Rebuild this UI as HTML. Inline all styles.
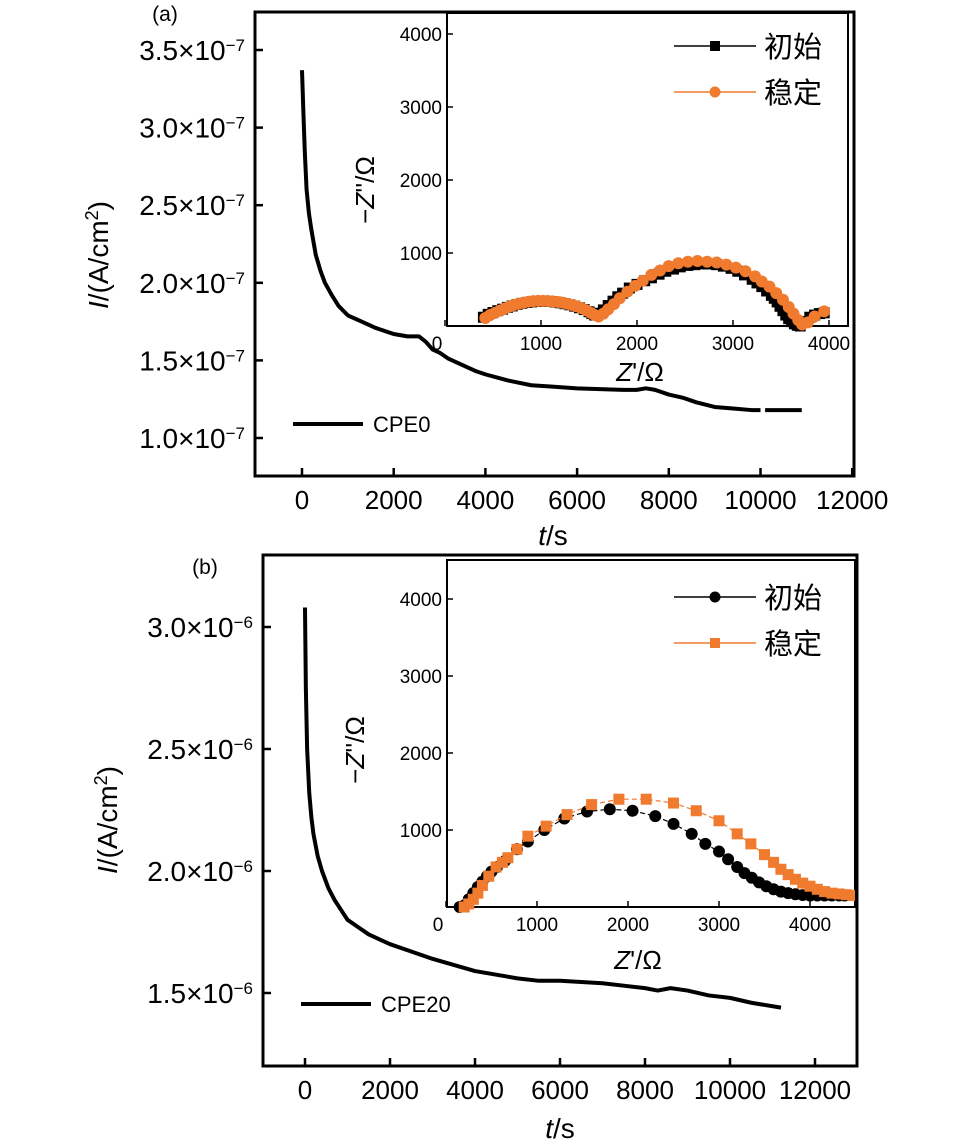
<!DOCTYPE html>
<html><head><meta charset="utf-8"><style>
html,body{margin:0;padding:0;background:#fff;}
svg{display:block;font-family:"Liberation Sans","Noto Sans CJK SC",sans-serif;}
</style></head><body>
<svg id="fig" width="971" height="1145" viewBox="0 0 971 1145" xmlns="http://www.w3.org/2000/svg">
<text x="165" y="21" font-size="21" text-anchor="middle">(a)</text>
<text x="205" y="574" font-size="21" text-anchor="middle">(b)</text>
<text transform="translate(108,255) rotate(-90)" font-size="28" text-anchor="middle"><tspan font-style="italic">I</tspan>/(A/cm<tspan baseline-shift="super" font-size="18">2</tspan>)</text>
<text transform="translate(117,820) rotate(-90)" font-size="28" text-anchor="middle"><tspan font-style="italic">I</tspan>/(A/cm<tspan baseline-shift="super" font-size="18">2</tspan>)</text>
<text x="553" y="545" font-size="28" text-anchor="middle"><tspan font-style="italic">t</tspan>/s</text>
<text x="560" y="1138" font-size="28" text-anchor="middle"><tspan font-style="italic">t</tspan>/s</text>
</svg>
<script>
// ---- Panel (a) main data ----
const tA = [0,30,60,100,150,200,300,400,500,650,800,1000,1300,1600,2000,2300,2550,2700,2850,3000,3200,3500,3800,4000,4500,5000,5500,6000,6500,7000,7300,7500,7700,8000,8300,8600,9000,9400,9800,10000];
const iA = [3.37,3.1,2.85,2.6,2.45,2.35,2.18,2.08,2.0,1.92,1.85,1.79,1.75,1.71,1.67,1.655,1.655,1.62,1.57,1.55,1.51,1.47,1.43,1.41,1.37,1.34,1.33,1.32,1.315,1.31,1.31,1.32,1.31,1.28,1.26,1.23,1.20,1.19,1.18,1.18];
const tA2 = [10100,10900];
const iA2 = [1.18,1.18];
const yTicksA = [1.0,1.5,2.0,2.5,3.0,3.5];
const xTicks = [0,2000,4000,6000,8000,10000,12000];
// ---- Panel (b) main data ----
const tB = [0,20,50,100,150,200,300,400,550,700,850,1000,1250,1500,1750,2000,2500,3000,3500,4000,4500,5000,5500,6000,6500,7000,7500,8000,8300,8600,9000,9500,10000,10500,11200];
const iB = [3.08,2.75,2.5,2.32,2.22,2.15,2.06,2.0,1.93,1.88,1.84,1.80,1.77,1.74,1.72,1.70,1.67,1.64,1.615,1.59,1.575,1.56,1.55,1.55,1.545,1.54,1.53,1.52,1.51,1.52,1.51,1.49,1.48,1.46,1.44];
const yTicksB = [1.5,2.0,2.5,3.0];
// ---- Inset (a) ----
const zrA_init = [400,450,500,550,600,650,700,750,800,850,900,950,1000,1050,1100,1150,1200,1250,1300,1350,1400,1450,1500,1530,1560,1600,1650,1700,1750,1800,1850,1920,2000,2080,2150,2230,2300,2380,2450,2530,2600,2680,2750,2830,2900,2980,3050,3120,3200,3250,3300,3350,3400,3430,3460,3490,3520,3550,3580,3610,3640,3670,3700,3750,3800,3850,3900,3950];
const ziA_init = [120,160,185,210,230,255,275,295,310,322,330,338,340,338,335,328,318,305,290,272,250,225,195,170,150,175,220,280,340,400,450,520,570,620,660,710,750,780,810,830,840,850,850,840,820,790,750,700,640,590,540,480,420,380,330,270,210,150,100,60,30,10,0,60,120,150,170,180];
const zrA_stab = [420,470,520,570,620,670,720,770,820,870,920,970,1020,1070,1120,1170,1220,1270,1320,1370,1420,1470,1520,1560,1600,1650,1700,1760,1820,1900,1980,2060,2150,2240,2330,2430,2530,2630,2730,2830,2930,3030,3130,3230,3300,3380,3450,3520,3580,3630,3680,3720,3780,3850,3950];
const ziA_stab = [110,150,180,210,240,265,290,305,320,333,340,345,345,342,338,330,320,305,290,270,245,215,180,150,130,170,230,300,380,470,550,620,700,760,820,860,880,890,880,870,840,800,750,680,610,540,450,360,260,170,80,20,50,130,200];
// ---- Inset (b) ----
const zrB_init = [150,200,250,300,350,400,450,500,560,650,780,900,1080,1300,1550,1800,2050,2300,2500,2700,2850,3000,3100,3200,3280,3360,3440,3520,3600,3680,3760,3840,3920,4000,4080,4160,4240,4320,4380];
const ziB_init = [0,20,100,180,260,330,400,460,520,600,750,850,1000,1150,1240,1270,1250,1180,1080,950,820,720,620,520,440,380,320,270,230,200,180,165,155,150,150,150,150,150,150];
const zrB_stab = [200,250,300,350,400,470,550,620,680,780,900,1100,1330,1600,1900,2200,2500,2750,3000,3200,3350,3500,3600,3680,3760,3840,3920,4000,4080,4160,4240,4320,4400,4480];
const ziB_stab = [0,40,100,180,280,400,520,580,640,750,920,1050,1200,1330,1400,1400,1350,1250,1120,950,820,680,580,490,420,360,310,270,230,200,180,170,160,150];
const insetYT = [0,1000,2000,3000,4000];
const insetXT = [0,1000,2000,3000,4000];

const NS="http://www.w3.org/2000/svg";
const svg=document.getElementById('fig');
function mk(tag,attrs,parent){const e=document.createElementNS(NS,tag);for(const k in attrs)e.setAttribute(k,attrs[k]);(parent||svg).appendChild(e);return e;}
function lin(d0,d1,r0,r1){return v=>r0+(v-d0)*(r1-r0)/(d1-d0);}

const xa=lin(0,2000,302,393.7), ya=lin(1.0,3.5,438,50);
const xb=lin(0,2000,305,390), yb=lin(1.5,3.0,993,627);

function mainPanel(id,L,T,R,B,xs,ys,yt,exp,tArr,iArr,legY,legLabel){
  const g=mk('g',{});
  
  
  const fr=mk('rect',{x:L,y:T,width:R-L,height:B-T,fill:'none',stroke:'#000','stroke-width':3},g);
  
  
  xTicks.forEach(v=>{
    const x=xs(v);
    mk('line',{x1:x,x2:x,y1:B,y2:B-8,stroke:'#000','stroke-width':2.5},g);
    const t=mk('text',{x:x,y:B+33,'font-size':26,'text-anchor':'middle'},g);
    t.textContent=v;
    
    
  });
  yt.forEach(v=>{
    const y=ys(v);
    mk('line',{x1:L,x2:L+8,y1:y,y2:y,stroke:'#000','stroke-width':2.5},g);
    const t=mk('text',{x:L-10,y:y+10,'font-size':28,'text-anchor':'end'},g);
    t.innerHTML=v.toFixed(1)+'×10<tspan baseline-shift="super" font-size="17">−'+exp+'</tspan>';
    
    
  });
  const p=mk('polyline',{points:tArr.map((t,i)=>xs(t)+','+ys(iArr[i])).join(' '),fill:'none',stroke:'#000','stroke-width':4,'stroke-linejoin':'round'},g);
  
  
  const ll=mk('line',{x1:L+38,x2:L+108,y1:legY,y2:legY,stroke:'#000','stroke-width':4},g);
  
  
  const lt=mk('text',{x:L+118,y:legY+8,'font-size':22},g);
  lt.textContent=legLabel;
  
  
  return g;
}
mainPanel('a',255,12,854,476,xa,ya,yTicksA,7,tA,iA,424,'CPE0');
{const p=mk('polyline',{points:tA2.map((t,i)=>xa(t)+','+ya(iA2[i])).join(' '),fill:'none',stroke:'#000','stroke-width':4});

}
mainPanel('b',263,555,857,1066,xb,yb,yTicksB,6,tB,iB,1004,'CPE20');

function inset(id,L,T,R,B,xs,ys,series,legY){
  const g=mk('g',{});
  
  
  mk('rect',{x:L,y:T,width:R-L,height:B-T,fill:'#fff',stroke:'#000','stroke-width':2},g);
  insetXT.forEach(v=>{
    const x=xs(v);
    mk('line',{x1:x,x2:x,y1:B,y2:B-6,stroke:'#000','stroke-width':1.5},g);
    const t=mk('text',{x:v===0?x-8:x,y:B+24,'font-size':19,'text-anchor':'middle'},g);
    t.textContent=v;
    
    
  });
  insetYT.forEach(v=>{
    const y=ys(v);
    if(v>0){
      mk('line',{x1:L,x2:L+6,y1:y,y2:y,stroke:'#000','stroke-width':1.5},g);
      const t=mk('text',{x:L-5,y:y+7,'font-size':19,'text-anchor':'end'},g);
      t.textContent=v;
      
      
    }
  });
  const cp=mk('clipPath',{id:'clip'+id},g);
  mk('rect',{x:L,y:T,width:R-L,height:B-T+6},cp);
  const dg=mk('g',{'clip-path':'url(#clip'+id+')'},g);
  series.forEach((s,si)=>{
    const pts=s.x.map((v,i)=>[xs(v),ys(s.y[i])]);
    const pl=mk('polyline',{points:pts.map(p=>p.join(',')).join(' '),fill:'none',stroke:s.color,'stroke-width':1.2,'stroke-dasharray':s.dash||''},dg);
    
    
    pts.forEach(p=>{
      const m=s.marker==='sq'?mk('rect',{x:p[0]-5.5,y:p[1]-5.5,width:11,height:11,fill:s.color},dg):mk('circle',{cx:p[0],cy:p[1],r:6,fill:s.color},dg);
      
      
    });
    const ly=legY+si*46, lx=L+227;
    mk('line',{x1:lx,x2:lx+82,y1:ly,y2:ly,stroke:s.color,'stroke-width':1.5},g);
    if(s.marker==='sq') mk('rect',{x:lx+36,y:ly-5,width:10,height:10,fill:s.color},g);
    else mk('circle',{cx:lx+41,cy:ly,r:5.5,fill:s.color},g);
    const t=mk('text',{x:lx+90,y:ly+11,'font-size':29},g);
    t.textContent=s.label;
    
    
  });
  return g;
}
const ixA=lin(0,1000,445,541), iyA=lin(0,1000,326,253);
inset('a',447,13,848,326,ixA,iyA,[
 {name:'initial',label:'初始',x:zrA_init,y:ziA_init,color:'#000',marker:'sq'},
 {name:'stable',label:'稳定',x:zrA_stab,y:ziA_stab,color:'#f07a2e',marker:'ci'}],46);
const ixB=lin(0,1000,446,537), iyB=lin(0,1000,907,830);
inset('b',447,560,855,907,ixB,iyB,[
 {name:'initial',label:'初始',x:zrB_init,y:ziB_init,color:'#000',marker:'ci',dash:'5,3'},
 {name:'stable',label:'稳定',x:zrB_stab,y:ziB_stab,color:'#f07a2e',marker:'sq',dash:'5,3'}],597);

function lbl(x,y,rot,html,name){
  const t=mk('text',{'font-size':26,'text-anchor':'middle',transform:'translate('+x+','+y+')'+(rot?' rotate(-90)':'')});
  t.innerHTML=html;
  
  
}
lbl(374,190,true,'−<tspan font-style="italic">Z</tspan>\'\'/Ω','inset-y-title-a');
lbl(364,750,true,'−<tspan font-style="italic">Z</tspan>\'\'/Ω','inset-y-title-b');
lbl(640,381,false,'<tspan font-style="italic">Z</tspan>\'/Ω','inset-x-title-a');
lbl(638,969,false,'<tspan font-style="italic">Z</tspan>\'/Ω','inset-x-title-b');
</script>
</body></html>
